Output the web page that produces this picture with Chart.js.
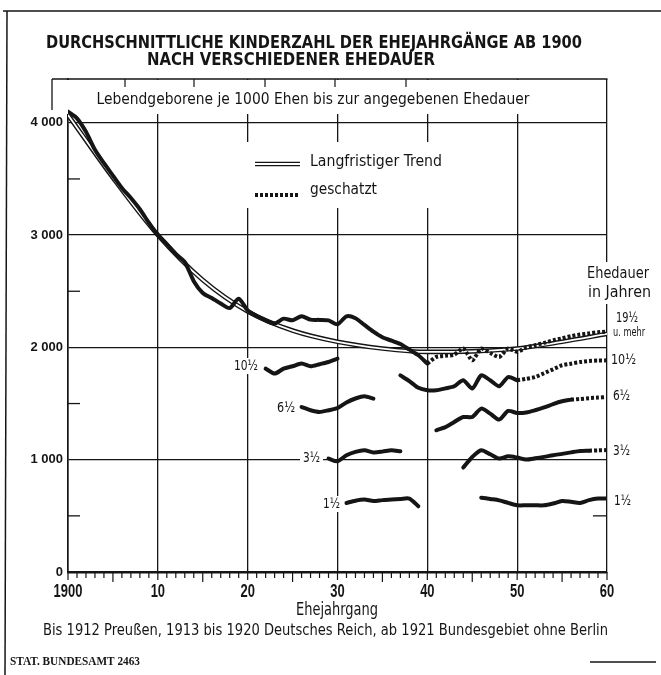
<!DOCTYPE html>
<html>
<head>
<meta charset="utf-8">
<script src="https://cdn.jsdelivr.net/npm/chart.js@4.4.0/dist/chart.umd.min.js"></script>
<style>
  html, body { margin: 0; padding: 0; background: #fff; }
</style>
</head>
<body>
<canvas id="grafico" width="661" height="675"></canvas>
<script>
// Etiquetas de los ejes
const xTickLabels = ['1900', '10', '20', '30', '40', '50', '60'];
const yTicks = [0, 500, 1000, 1500, 2000, 2500, 3000, 3500, 4000];
const yTickLabels = ['0', '1 000', '2 000', '3 000', '4 000'];

// Tendencia a largo plazo
const trendYears = [1900, 1905, 1910, 1915, 1920, 1925, 1930, 1935, 1940, 1945, 1950, 1955, 1960];
const trendValues = [4070, 3510, 3000, 2600, 2320, 2150, 2050, 1990, 1960, 1965, 1990, 2050, 2120];

// 19½ u. mehr (desde 1900, uno por año)
const total = [4100, 4040, 3920, 3760, 3640, 3530, 3420, 3330, 3230, 3110, 3000, 2920, 2830, 2760, 2590,
  2485, 2440, 2390, 2350, 2434, 2330, 2280, 2240, 2212, 2256, 2241, 2277, 2247, 2245, 2241, 2206,
  2277, 2260, 2200, 2140, 2090, 2060, 2030, 1980, 1930, 1856];
// estimado desde 1940
const totalEst = [1856, 1915, 1925, 1935, 1990, 1885, 1990, 1950, 1915, 1990, 1960, 2000, 2020, 2040,
  2063, 2080, 2100, 2115, 2125, 2135, 2140];

// 10½ (desde 1922, 1937 y estimado desde 1950)
const d10a = [1811, 1767, 1811, 1832, 1856, 1832, 1850, 1870, 1900];
const d10b = [1751, 1700, 1640, 1618, 1618, 1635, 1654, 1707, 1633, 1751, 1707, 1654, 1736, 1707];
const d10Est = [1707, 1720, 1736, 1770, 1805, 1841, 1855, 1870, 1879, 1883, 1885];

// 6½ (desde 1926, 1941 y estimado desde 1956)
const d6a = [1469, 1440, 1425, 1440, 1460, 1510, 1545, 1565, 1544];
const d6b = [1262, 1290, 1336, 1380, 1380, 1455, 1410, 1357, 1434, 1416, 1420, 1440, 1465, 1495, 1520, 1535];
const d6Est = [1535, 1540, 1548, 1553, 1558];

// 3½ (desde 1929, 1944 y estimado desde 1958)
const d3a = [1010, 986, 1040, 1070, 1084, 1065, 1072, 1084, 1075];
const d3b = [930, 1024, 1084, 1048, 1010, 1030, 1019, 1001, 1012, 1025, 1040, 1052, 1065, 1077, 1080];
const d3Est = [1080, 1083, 1086];

// 1½ (desde 1931 y 1946)
const d1a = [615, 635, 645, 632, 640, 645, 650, 654, 585];
const d1b = [662, 650, 638, 615, 594, 594, 594, 594, 610, 632, 625, 615, 640, 654, 654];

const NARROW = "'Liberation Sans Narrow', 'DejaVu Sans Condensed', 'Roboto Condensed', 'Liberation Sans', sans-serif";
const NEGRO = '#151515';

//convierte una serie anual en puntos {x, y}
const puntos = (desde, valores) => valores.map((v, i) => ({ x: desde + i, y: v }));

function linea(data, extra) {
    return Object.assign({
        data: data,
        borderColor: NEGRO,
        borderWidth: 4,
        pointRadius: 0,
        tension: 0.25,
        borderCapStyle: 'round',
        borderJoinStyle: 'round',
        fill: false,
        order: 0
    }, extra || {});
}
const punteada = { borderDash: [3, 2], borderCapStyle: 'butt', borderWidth: 4, tension: 0.2 };

const trendData = trendYears.map((a, i) => ({ x: a, y: trendValues[i] }));

function texto(ctx, str, x, y, font, align, maxW) {
    ctx.font = font;
    ctx.textAlign = align || 'left';
    ctx.textBaseline = 'middle';
    ctx.fillStyle = NEGRO;
    if (maxW) ctx.fillText(str, x, y, maxW); else ctx.fillText(str, x, y);
}

function segmento(ctx, x1, y1, x2, y2, w) {
    ctx.beginPath();
    ctx.lineWidth = w;
    ctx.moveTo(x1, y1);
    ctx.lineTo(x2, y2);
    ctx.stroke();
}

// Fondo blanco bajo subtítulo, leyenda y rótulos
const tapar = {
    id: 'tapar',
    beforeDatasetsDraw(chart) {
        const { ctx, chartArea: a } = chart;
        ctx.save();
        ctx.fillStyle = '#fff';
        ctx.fillRect(a.left - 2, a.top + 1, a.right - a.left + 0.5, 113 - a.top);
        ctx.fillRect(240, 142, 206, 66);
        ctx.fillRect(584, 262, 74, 42);
        ctx.fillRect(231, 358, 29, 16);
        ctx.fillRect(275, 400, 22, 16);
        ctx.fillRect(300, 450, 23, 16);
        ctx.fillRect(321, 496, 21, 16);
        ctx.restore();
    },
    afterDraw(chart) {
        const { ctx, chartArea: a, scales: { x, y } } = chart;
        ctx.save();
        ctx.strokeStyle = NEGRO;

        // marco exterior
        segmento(ctx, 3, 11, 661, 11, 1.5);
        segmento(ctx, 7, 11, 5, 675, 1.5);
        segmento(ctx, 590, 662, 656, 662, 1.5);

        // caja del subtítulo
        segmento(ctx, 52, a.top, a.right + 0.5, a.top, 1.3);
        segmento(ctx, 52, a.top, 52, 110, 1.3);
        [125, 194, 265, 335, 406].forEach(px => segmento(ctx, px, a.top, px, a.top + 8, 1.2));

        // marcas de medio millar
        [500, 1500, 2500, 3500].forEach(v => {
            const py = y.getPixelForValue(v);
            segmento(ctx, a.left, py, a.left + 12, py, 1.3);
        });
        const p500 = y.getPixelForValue(500);
        segmento(ctx, a.right - 14, p500, a.right, p500, 1.3);

        // marcas anuales bajo el eje
        for (let an = 1900; an <= 1960; an++) {
            const px = x.getPixelForValue(an);
            const largo = an % 10 === 0 ? 8 : (an % 5 === 0 ? 10 : 6);
            segmento(ctx, px, a.bottom, px, a.bottom + largo, 1.2);
        }

        // etiquetas del eje x (más estrechas que las de Chart.js)
        x.ticks.forEach((t, i) => {
            const lab = xTickLabels[i];
            texto(ctx, lab, x.getPixelForValue(t.value), 592, "bold 19px 'Liberation Sans', sans-serif", 'center', lab.length * 7.2);
        });

        // leyenda
        ctx.strokeStyle = NEGRO;
        segmento(ctx, 255, 164, 300, 164, 4.5);
        ctx.strokeStyle = '#fff';
        segmento(ctx, 254, 164, 301, 164, 1.8);
        ctx.strokeStyle = NEGRO;
        ctx.setLineDash([3, 2]);
        segmento(ctx, 255, 195, 300, 195, 4);
        ctx.setLineDash([]);

        // títulos
        texto(ctx, 'DURCHSCHNITTLICHE KINDERZAHL DER EHEJAHRGÄNGE AB 1900', 314, 44, "bold 17px 'DejaVu Sans', sans-serif", 'center', 536);
        texto(ctx, 'NACH VERSCHIEDENER EHEDAUER', 291, 61, "bold 17px 'DejaVu Sans', sans-serif", 'center', 288);
        texto(ctx, 'Lebendgeborene je 1000 Ehen bis zur angegebenen Ehedauer', 313, 100, '16px ' + NARROW, 'center', 433);
        texto(ctx, 'Langfristiger Trend', 310, 162, '16px ' + NARROW, 'left', 132);
        texto(ctx, 'geschatzt', 310, 190, '16px ' + NARROW, 'left', 67);

        // rótulos de duración
        texto(ctx, 'Ehedauer', 587, 274, '16px ' + NARROW, 'left', 62);
        texto(ctx, 'in Jahren', 588, 293, '16px ' + NARROW, 'left', 63);
        texto(ctx, '19½', 616, 318, '14px ' + NARROW, 'left', 22);
        texto(ctx, 'u. mehr', 613, 333, '12px ' + NARROW, 'left', 32);
        texto(ctx, '10½', 611, 360, '14px ' + NARROW, 'left', 25);
        texto(ctx, '6½', 613, 396, '14px ' + NARROW, 'left', 17);
        texto(ctx, '3½', 613, 451, '14px ' + NARROW, 'left', 17);
        texto(ctx, '1½', 614, 501, '14px ' + NARROW, 'left', 17);
        texto(ctx, '10½', 234, 366, '14px ' + NARROW, 'left', 24);
        texto(ctx, '6½', 277, 408, '14px ' + NARROW, 'left', 18);
        texto(ctx, '3½', 303, 458, '14px ' + NARROW, 'left', 17);
        texto(ctx, '1½', 323, 504, '14px ' + NARROW, 'left', 17);

        // pie
        texto(ctx, 'Ehejahrgang', 337, 611, '17px ' + NARROW, 'center', 82);
        texto(ctx, 'Bis 1912 Preußen, 1913 bis 1920 Deutsches Reich, ab 1921 Bundesgebiet ohne Berlin', 43, 631, "15px 'DejaVu Sans', sans-serif", 'left', 565);
        texto(ctx, 'STAT. BUNDESAMT 2463', 10, 662, "bold 13px 'Liberation Serif', serif", 'left', 130);
        ctx.restore();
    }
};

const data = {
    datasets: [
        linea(puntos(1900, total)),
        linea(puntos(1940, totalEst), punteada),
        linea(puntos(1922, d10a)),
        linea(puntos(1937, d10b)),
        linea(puntos(1950, d10Est), punteada),
        linea(puntos(1926, d6a)),
        linea(puntos(1941, d6b)),
        linea(puntos(1956, d6Est), punteada),
        linea(puntos(1929, d3a)),
        linea(puntos(1944, d3b)),
        linea(puntos(1958, d3Est), punteada),
        linea(puntos(1931, d1a)),
        linea(puntos(1946, d1b)),
        // tendencia: línea doble
        linea(trendData, { borderColor: '#fff', borderWidth: 1.8, order: 1, tension: 0, cubicInterpolationMode: 'monotone' }),
        linea(trendData, { borderWidth: 4.6, order: 2, tension: 0, cubicInterpolationMode: 'monotone' })
    ]
};

const options = {
    responsive: false,
    animation: false,
    devicePixelRatio: 1,
    layout: { padding: { top: 79, right: 54, left: 0, bottom: 0 } },
    plugins: { legend: { display: false }, tooltip: { enabled: false }, title: { display: false } },
    scales: {
        x: {
            type: 'linear',
            min: 1900,
            max: 1960,
            afterFit: s => { s.height = 675 - 572; },
            ticks: {
                stepSize: 10,
                padding: 12,
                color: 'rgba(0,0,0,0)',
                font: { size: 18, weight: 'bold' },
                callback: (v, i) => xTickLabels[i]
            },
            grid: { color: NEGRO, lineWidth: 1.3, drawTicks: false },
            border: { color: NEGRO, width: 2.5 }
        },
        y: {
            min: 0,
            max: 4390,
            afterFit: s => { s.width = 68; },
            afterBuildTicks: s => { s.ticks = yTicks.map(v => ({ value: v })); },
            ticks: {
                autoSkip: false,
                padding: 5,
                color: NEGRO,
                font: { family: "'Liberation Sans', sans-serif", size: 13, weight: 'bold' },
                callback: v => (v % 1000 === 0 ? yTickLabels[v / 1000] : '')
            },
            grid: {
                drawTicks: false,
                lineWidth: 1.3,
                color: c => (c.tick && c.tick.value % 1000 === 0 ? NEGRO : 'rgba(0,0,0,0)')
            },
            border: { color: NEGRO, width: 1.6 }
        }
    }
};

new Chart(document.getElementById('grafico'), { type: 'line', data: data, options: options, plugins: [tapar] });
</script>
</body>
</html>
